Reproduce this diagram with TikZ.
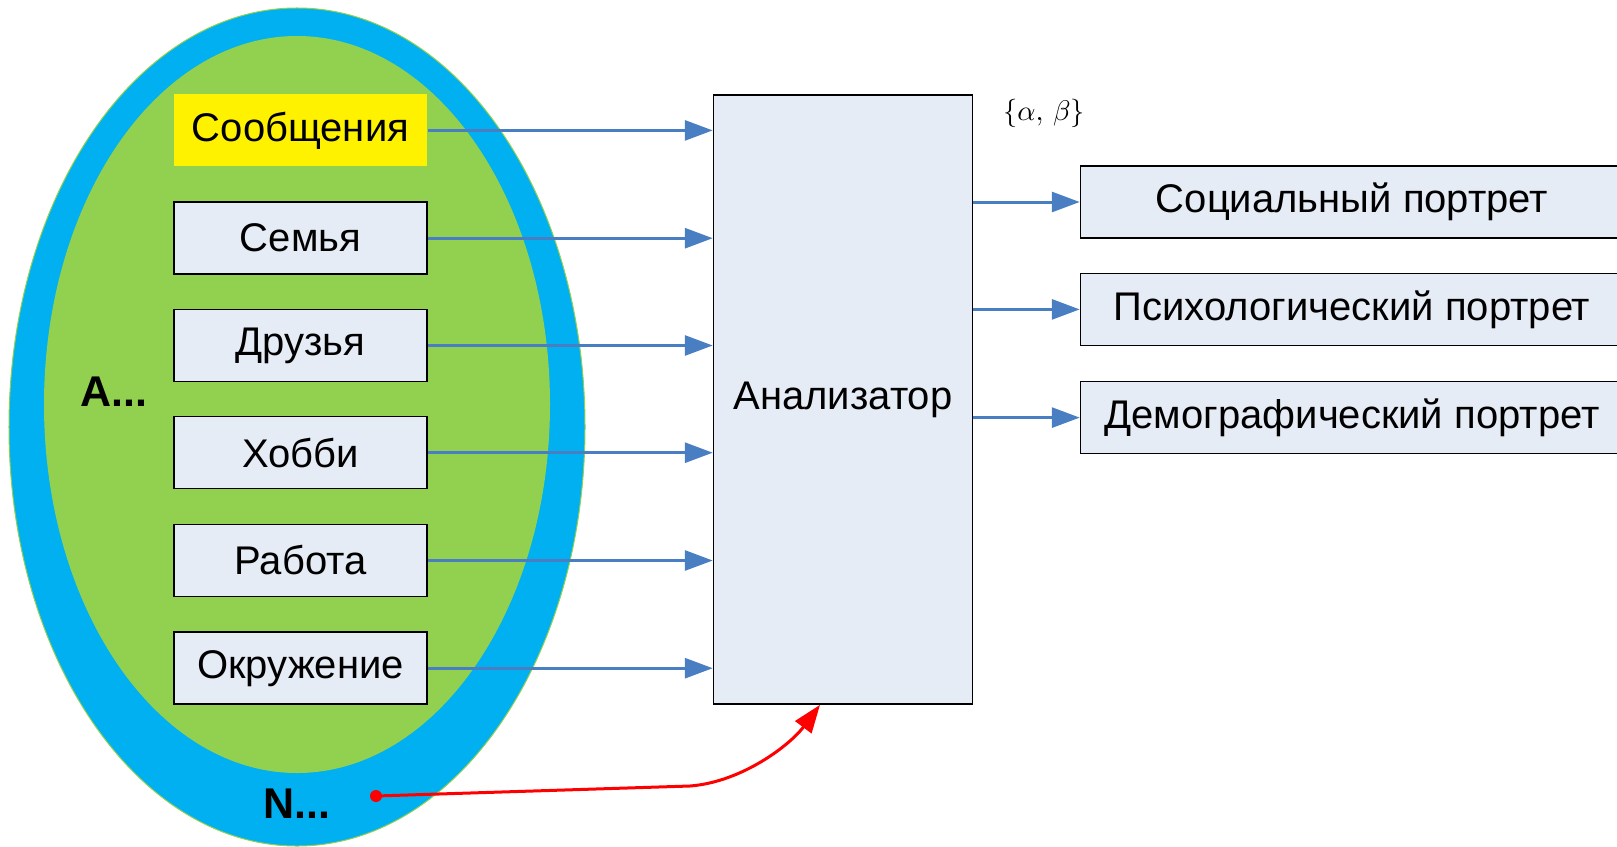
\documentclass[tikz,border=0pt]{standalone}
\usepackage{fontspec}
\setmainfont{Liberation Sans}
\usetikzlibrary{arrows.meta}
\definecolor{ringblue}{HTML}{00B0F0}
\definecolor{leafgreen}{HTML}{92D050}
\definecolor{panel}{HTML}{E6ECF6}
\definecolor{flow}{HTML}{4A7EC2}
\begin{document}
\begin{tikzpicture}[x=1bp,y=-1bp,
  lbl/.style={font=\fontsize{40bp}{48bp}\selectfont},
  boldlbl/.style={font=\fontsize{43bp}{50bp}\selectfont\bfseries},
  srcbox/.style={lbl, draw=black, line width=1.5bp, fill=panel,
    minimum width=253bp, minimum height=72bp, inner sep=0pt},
  outbox/.style={srcbox, minimum width=543bp},
  flowarrow/.style={draw=flow, line width=3bp, -{Triangle[length=28bp,width=20bp]}},
  redarrow/.style={draw=red, line width=3bp, -{Triangle[length=28bp,width=20bp]}},
]
\useasboundingbox (0,0) rectangle (1617,846);

% nested sets: outer ring and inner area
\filldraw[fill=ringblue, draw=leafgreen, line width=1bp]
  (297,427) ellipse [x radius=288bp, y radius=419bp];
\fill[leafgreen] (297,404.5) ellipse [x radius=253bp, y radius=368.5bp];

% source categories
\node[srcbox, fill=yellow, draw=none] (msg) at (300.5,130.4) {Сообщения};
\node[srcbox] (fam)  at (300.5,238.2) {Семья};
\node[srcbox] (fr)   at (300.5,345.5) {Друзья};
\node[srcbox] (hob)  at (300.5,452.7) {Хобби};
\node[srcbox] (work) at (300.5,560.5) {Работа};
\node[srcbox] (env)  at (300.5,668.2) {Окружение};

\node[boldlbl] (alab) at (114,392) {A...};
\node[boldlbl] (nlab) at (297,804) {N...};

% analyser block
\node[srcbox, minimum width=259bp, minimum height=609bp] (an) at (843,399.6) {Анализатор};
\node[scale=2.85] (par) at (1044,113.4) {$\{\alpha,\,\beta\}$};

% resulting portraits
\node[outbox] (soc)  at (1352,202)   {Социальный портрет};
\node[outbox] (psy)  at (1352,309.4) {Психологический портрет};
\node[outbox] (demo) at (1352,417.6) {Демографический портрет};

% inputs
\foreach \s in {msg,fam,fr,hob,work,env}
  \draw[flowarrow] (\s.east) -- (\s.east -| an.west);

% outputs
\foreach \t in {soc,psy,demo}
  \draw[flowarrow] (\t.west -| an.east) -- (\t.west);

% feedback from the outer set
\node[circle, fill=red, inner sep=0pt, minimum size=12bp] (dot) at (376,796) {};
\coordinate (tip) at ([xshift=-23bp]an.south);
\draw[redarrow] (dot.center) -- (690,786) .. controls (742,782) and (790,745) .. (tip);
\end{tikzpicture}
\end{document}
